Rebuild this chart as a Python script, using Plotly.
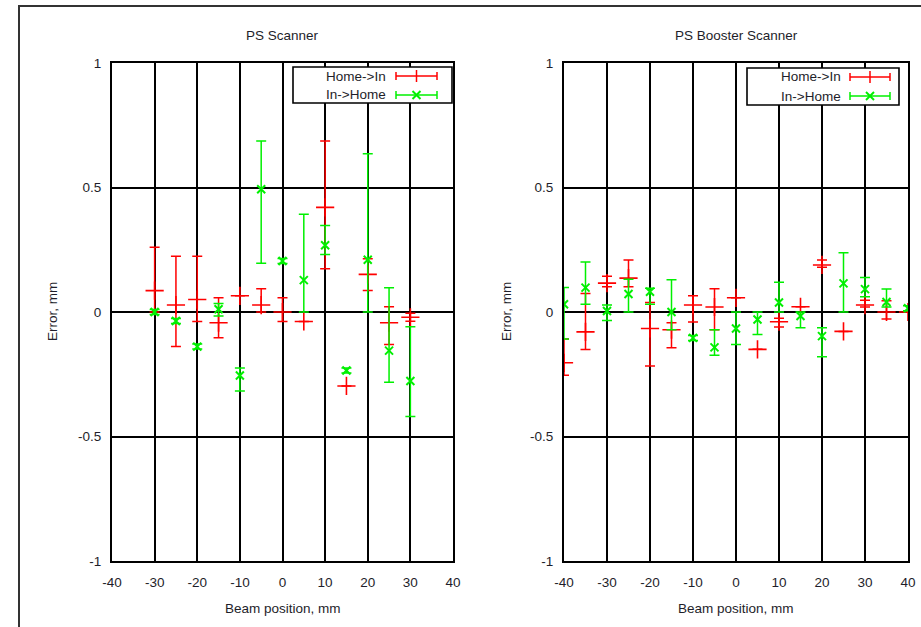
import plotly.graph_objects as go

# ---------------- data ----------------
ps_x = [-30, -25, -20, -15, -10, -5, 0, 5, 10, 15, 20, 25, 30]
ps_home_in_y = [0.086, 0.028, 0.05, -0.043, 0.065, 0.028, 0.0, -0.038, 0.42, -0.297, 0.151, -0.043, -0.021]
ps_home_in_plus = [0.174, 0.196, 0.174, 0.10, 0.0, 0.065, 0.057, 0.0, 0.267, 0.0, 0.063, 0.064, 0.016]
ps_home_in_minus = [0.086, 0.167, 0.088, 0.06, 0.0, 0.028, 0.038, 0.0, 0.246, 0.0, 0.065, 0.088, 0.016]
ps_in_home_y = [0.0, -0.036, -0.139, 0.011, -0.255, 0.493, 0.205, 0.128, 0.268, -0.235, 0.21, -0.155, -0.277]
ps_in_home_plus = [0.01, 0.01, 0.01, 0.023, 0.03, 0.194, 0.01, 0.265, 0.079, 0.01, 0.426, 0.252, 0.218]
ps_in_home_minus = [0.01, 0.01, 0.01, 0.027, 0.062, 0.297, 0.01, 0.128, 0.037, 0.01, 0.21, 0.127, 0.143]

psb_x = [-40, -35, -30, -25, -20, -15, -10, -5, 0, 5, 10, 15, 20, 25, 30, 35, 40]
psb_home_in_y = [-0.204, -0.08, 0.116, 0.136, -0.066, -0.071, 0.028, 0.02, 0.057, -0.15, -0.039, 0.021, 0.189, -0.078, 0.028, 0.0, 0.0]
psb_home_in_plus = [0.096, 0.154, 0.028, 0.073, 0.104, 0.028, 0.037, 0.073, 0.0, 0.0, 0.014, 0.0, 0.02, 0.0, 0.019, 0.045, 0.0]
psb_home_in_minus = [0.05, 0.071, 0.015, 0.035, 0.151, 0.073, 0.068, 0.091, 0.0, 0.0, 0.021, 0.0, 0.009, 0.0, 0.008, 0.028, 0.0]
psb_in_home_y = [0.031, 0.098, 0.004, 0.072, 0.081, 0.0, -0.104, -0.142, -0.066, -0.03, 0.038, -0.016, -0.097, 0.115, 0.092, 0.04, 0.015]
psb_in_home_plus = [0.067, 0.103, 0.024, 0.06, 0.014, 0.13, 0.01, 0.071, 0.066, 0.03, 0.081, 0.016, 0.034, 0.123, 0.047, 0.052, 0.01]
psb_in_home_minus = [0.139, 0.067, 0.038, 0.072, 0.05, 0.071, 0.01, 0.032, 0.065, 0.06, 0.038, 0.047, 0.083, 0.115, 0.031, 0.02, 0.01]

titles = ["PS Scanner", "PS Booster Scanner"]
series_names = ["Home->In", "In->Home"]
x_ticks = [-40, -30, -20, -10, 0, 10, 20, 30, 40]
x_ticktext = ["-40", "-30", "-20", "-10", "0", "10", "20", "30", "40"]
y_ticks = [-1, -0.5, 0, 0.5, 1]
y_ticktext = ["-1", "-0.5", "0", "0.5", "1"]
x_title = "Beam position, mm"
y_title = "Error, mm"

RED = "#ff0000"
GREEN = "#00f000"
W, H = 921, 627
FONT = dict(family="Liberation Sans, Arial, sans-serif", size=13.5, color="#1e1e2a")


def px(x):
    return x / W


def py(y):
    return 1 - y / H


fig = go.Figure()


def add_series(xs, ys, plus, minus, color, symbol, msize, mlw, xa, ya):
    fig.add_trace(go.Scatter(
        x=xs, y=ys, mode="markers", xaxis=xa, yaxis=ya, showlegend=False,
        marker=dict(symbol=symbol, size=msize, color=color, line=dict(color=color, width=mlw)),
        error_y=dict(type="data", symmetric=False, array=plus, arrayminus=minus,
                     color=color, thickness=1.5, width=5),
    ))


add_series(ps_x, ps_home_in_y, ps_home_in_plus, ps_home_in_minus, RED, "cross-thin-open", 13, 1.6, "x", "y")
add_series(ps_x, ps_in_home_y, ps_in_home_plus, ps_in_home_minus, GREEN, "x-thin-open", 8, 2, "x", "y")
add_series(psb_x, psb_home_in_y, psb_home_in_plus, psb_home_in_minus, RED, "cross-thin-open", 13, 1.6, "x2", "y2")
add_series(psb_x, psb_in_home_y, psb_in_home_plus, psb_in_home_minus, GREEN, "x-thin-open", 8, 2, "x2", "y2")

xdoms = [[px(112), px(453)], [px(564), px(908)]]
ydom = [py(561), py(63)]

common_x = dict(range=[-40, 40], tickvals=x_ticks, ticktext=x_ticktext, showgrid=True, gridcolor="#000",
                gridwidth=1.6, zeroline=False, showline=True, mirror=True, linecolor="#000", linewidth=2,
                ticks="outside", ticklen=8, tickcolor="rgba(0,0,0,0)", tickfont=FONT, fixedrange=True,
                automargin=False)
common_y = dict(range=[-1, 1], tickvals=y_ticks, ticktext=y_ticktext, showgrid=True, gridcolor="#000",
                gridwidth=1.6, zeroline=False, showline=True, mirror=True, linecolor="#000", linewidth=2,
                ticks="outside", ticklen=6, tickcolor="rgba(0,0,0,0)", tickfont=FONT, fixedrange=True,
                automargin=False)

fig.update_layout(
    width=W, height=H, margin=dict(l=0, r=0, t=0, b=0),
    paper_bgcolor="white", plot_bgcolor="white",
    xaxis=dict(domain=xdoms[0], anchor="y", **common_x),
    yaxis=dict(domain=ydom, anchor="x", **common_y),
    xaxis2=dict(domain=xdoms[1], anchor="y2", **common_x),
    yaxis2=dict(domain=ydom, anchor="x2", **common_y),
)

shapes = []
annotations = []

# outer frame
shapes.append(dict(type="rect", xref="paper", yref="paper", x0=px(19), x1=1.2, y0=-0.2, y1=py(6),
                   line=dict(color="#333", width=2), fillcolor="rgba(0,0,0,0)", layer="below"))

centers = [(112 + 453) / 2, (564 + 908) / 2]
ylab_x = [53, 507]
for i in range(2):
    annotations.append(dict(text=titles[i], x=px(centers[i]), y=py(36), xref="paper", yref="paper",
                            showarrow=False, font=FONT, xanchor="center", yanchor="middle"))
    annotations.append(dict(text=x_title, x=px(centers[i]), y=py(608), xref="paper", yref="paper",
                            showarrow=False, font=FONT, xanchor="center", yanchor="middle"))
    annotations.append(dict(text=y_title, x=px(ylab_x[i]), y=py(312), xref="paper", yref="paper",
                            showarrow=False, font=FONT, textangle=-90, xanchor="center", yanchor="middle"))

# legends (gnuplot style: text then sample)
legends = [
    dict(box=(293, 67, 452, 103), text_right=388, s0=396, s1=437, rows=(76, 95)),
    dict(box=(747, 68, 899, 105), text_right=843, s0=850, s1=890, rows=(77, 96)),
]
for lg in legends:
    bx0, by0, bx1, by1 = lg["box"]
    shapes.append(dict(type="rect", xref="paper", yref="paper", x0=px(bx0), x1=px(bx1), y0=py(by1), y1=py(by0),
                       line=dict(color="#000", width=1.6), fillcolor="white"))
    for name, ry, col in zip(series_names, lg["rows"], [RED, GREEN]):
        annotations.append(dict(text=name, x=px(lg["text_right"]), y=py(ry), xref="paper", yref="paper",
                                showarrow=False, font=FONT, xanchor="right", yanchor="middle"))
        s0, s1 = lg["s0"], lg["s1"]
        shapes.append(dict(type="line", xref="paper", yref="paper", x0=px(s0), x1=px(s1), y0=py(ry), y1=py(ry),
                           line=dict(color=col, width=1.5)))
        for sx in (s0, s1):
            shapes.append(dict(type="line", xref="paper", yref="paper", x0=px(sx), x1=px(sx),
                               y0=py(ry - 4), y1=py(ry + 4), line=dict(color=col, width=1.5)))
        cx = (s0 + s1) / 2
        if col == RED:
            shapes.append(dict(type="line", xref="paper", yref="paper", x0=px(cx), x1=px(cx),
                               y0=py(ry - 6), y1=py(ry + 6), line=dict(color=col, width=1.5)))
        else:
            shapes.append(dict(type="line", xref="paper", yref="paper", x0=px(cx - 4), x1=px(cx + 4),
                               y0=py(ry - 4), y1=py(ry + 4), line=dict(color=col, width=2)))
            shapes.append(dict(type="line", xref="paper", yref="paper", x0=px(cx - 4), x1=px(cx + 4),
                               y0=py(ry + 4), y1=py(ry - 4), line=dict(color=col, width=2)))

fig.update_layout(shapes=shapes, annotations=annotations)
fig.write_html("out.html")
